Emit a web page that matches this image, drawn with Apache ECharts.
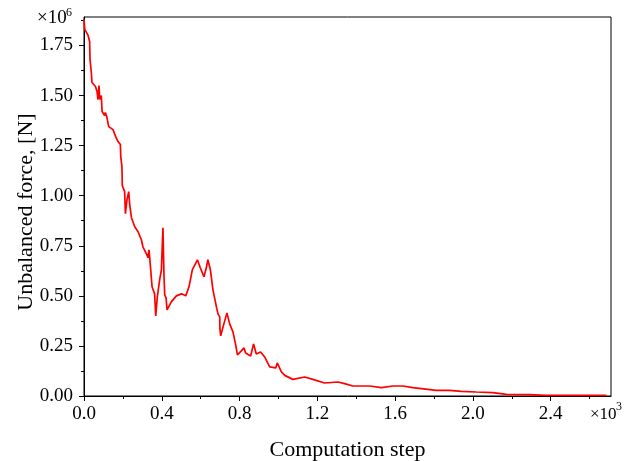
<!DOCTYPE html>
<html>
<head>
<meta charset="utf-8">
<script src="https://cdn.jsdelivr.net/npm/echarts@6/dist/echarts.min.js"></script>
<style>html,body{margin:0;padding:0;background:#fff;}#c{width:638px;height:461px;}</style>
</head>
<body>
<div id="c"></div>
<script>
// Computation step (x10^3)
const steps = [0.000,0.004,0.021,0.029,0.031,0.038,0.041,0.059,0.067,0.072,0.077,0.081,0.089,0.093,0.106,0.110,0.118,0.127,0.149,0.163,0.175,0.187,0.189,0.195,0.197,0.209,0.213,0.221,0.230,0.235,0.244,0.261,0.278,0.295,0.303,0.321,0.329,0.334,0.338,0.343,0.350,0.363,0.369,0.377,0.389,0.398,0.406,0.411,0.415,0.422,0.427,0.449,0.475,0.501,0.523,0.540,0.557,0.583,0.598,0.617,0.629,0.637,0.650,0.663,0.681,0.689,0.698,0.699,0.703,0.715,0.735,0.749,0.766,0.780,0.789,0.809,0.823,0.831,0.857,0.872,0.886,0.908,0.929,0.955,0.986,0.994,1.015,1.032,1.074,1.135,1.177,1.237,1.306,1.340,1.383,1.469,1.529,1.589,1.640,1.691,1.735,1.812,1.880,1.940,2.017,2.103,2.172,2.291,2.377,2.686];
// Unbalanced force (x10^6 N)
const force = [1.88,1.83,1.80,1.77,1.68,1.61,1.565,1.545,1.52,1.48,1.55,1.48,1.50,1.42,1.40,1.415,1.39,1.345,1.33,1.295,1.27,1.255,1.195,1.145,1.05,1.02,0.91,0.98,1.02,0.955,0.89,0.845,0.82,0.78,0.745,0.71,0.69,0.73,0.69,0.63,0.545,0.51,0.40,0.495,0.58,0.63,0.84,0.61,0.505,0.49,0.43,0.47,0.50,0.51,0.50,0.545,0.63,0.68,0.64,0.595,0.64,0.68,0.63,0.53,0.445,0.41,0.395,0.335,0.30,0.345,0.415,0.36,0.32,0.255,0.205,0.225,0.24,0.215,0.20,0.26,0.21,0.22,0.195,0.145,0.14,0.165,0.12,0.103,0.083,0.095,0.083,0.065,0.07,0.062,0.05,0.05,0.042,0.05,0.05,0.042,0.037,0.028,0.028,0.023,0.02,0.017,0.008,0.007,0.003,0.003];
const xMajor = [0,0.4,0.8,1.2,1.6,2.0,2.4];
const xMinor = [0.2,0.6,1.0,1.4,1.8,2.2,2.6];
const yMajor = [0,0.25,0.5,0.75,1.0,1.25,1.5,1.75];
const yMinor = [0.125,0.375,0.625,0.875,1.125,1.375,1.625,1.875];
const xTitle = 'Computation step';
const yTitle = 'Unbalanced force, [N]';

const FONT = '"Liberation Serif", "Times New Roman", serif';
const XMAX = 2.71, YMAX = 1.892;
const data = steps.map((s, i) => [s, force[i]]);
const chart = echarts.init(document.getElementById('c'));
const axisCommon = {
  type: 'value', splitLine: {show: false}
};
chart.setOption({
  animation: false,
  grid: {left: 84, right: 27, top: 17, bottom: 65, outerBoundsMode: 'none', containLabel: false,
         show: true, borderColor: '#000', borderWidth: 1, backgroundColor: 'transparent'},
  xAxis: [
    Object.assign({}, axisCommon, {
      min: 0, max: XMAX, position: 'bottom',
      name: xTitle, nameLocation: 'middle', nameGap: 43,
      nameTextStyle: {fontFamily: FONT, fontSize: 22, color: '#000'},
      axisLine: {show: true, lineStyle: {color: '#000', width: 1}},
      axisTick: {show: true, inside: false, length: 5, customValues: xMajor, lineStyle: {color: '#000'}},
      axisLabel: {show: true, customValues: xMajor, margin: 9, fontFamily: FONT, fontSize: 19, color: '#000',
        formatter: v => v.toFixed(1)}
    }),
    Object.assign({}, axisCommon, {
      min: 0, max: XMAX, position: 'bottom',
      axisLine: {show: false},
      axisTick: {show: true, inside: false, length: 3, customValues: xMinor, lineStyle: {color: '#000'}},
      axisLabel: {show: false}
    })
  ],
  yAxis: [
    Object.assign({}, axisCommon, {
      min: 0, max: YMAX, position: 'left',
      axisLine: {show: true, lineStyle: {color: '#000', width: 1}},
      axisTick: {show: true, inside: false, length: 5, customValues: yMajor, lineStyle: {color: '#000'}},
      axisLabel: {show: true, customValues: yMajor, margin: 11, fontFamily: FONT, fontSize: 19, color: '#000',
        formatter: v => v.toFixed(2)}
    }),
    Object.assign({}, axisCommon, {
      min: 0, max: YMAX, position: 'left',
      axisLine: {show: false},
      axisTick: {show: true, inside: false, length: 3, customValues: yMinor, lineStyle: {color: '#000'}},
      axisLabel: {show: false}
    })
  ],
  graphic: [
    {type: 'text', x: 26, y: 212, rotation: Math.PI / 2,
     style: {text: yTitle, font: '22px ' + FONT, fill: '#000', align: 'center', verticalAlign: 'middle'}},
    {type: 'text', left: 37, top: 9, style: {text: '×10', font: '19px ' + FONT, fill: '#000'}},
    {type: 'text', left: 66, top: 7, style: {text: '6', font: '12px ' + FONT, fill: '#000'}},
    {type: 'text', left: 590, top: 406, style: {text: '×10', font: '17px ' + FONT, fill: '#000'}},
    {type: 'text', left: 616, top: 401, style: {text: '3', font: '12px ' + FONT, fill: '#000'}}
  ],
  series: [{
    type: 'line', xAxisIndex: 0, yAxisIndex: 0, data: data,
    showSymbol: false, symbol: 'none',
    lineStyle: {color: '#ff0000', width: 1.7}, itemStyle: {color: '#ff0000'}
  }]
});
</script>
</body>
</html>
